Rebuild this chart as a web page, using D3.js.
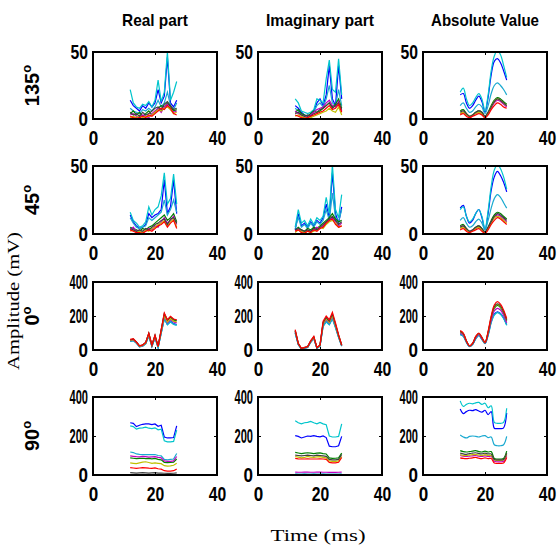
<!DOCTYPE html>
<html>
<head>
<meta charset="utf-8">
<script src="https://d3js.org/d3.v7.min.js"></script>
<style>
    body, html { margin: 0; padding: 0; background: #fff; }
    .tick text {
        font-family: "Liberation Sans", Arial, sans-serif;
        font-weight: bold;
        font-size: 21px;
        fill: #000;
    }
    .col-title {
        font-family: "Liberation Sans", Arial, sans-serif;
        font-weight: bold;
        font-size: 17px;
    }
    .row-label {
        font-family: "Liberation Sans", Arial, sans-serif;
        font-weight: bold;
        font-size: 20px;
    }
    .axis-title {
        font-family: "Liberation Serif", "Times New Roman", serif;
        font-size: 17px;
    }
</style>
</head>
<body>
<script>
// time axis (ms), shared by every trace
const timeMs = [12, 13, 14, 15, 16, 17, 18, 19, 20, 21, 22, 23, 24, 25, 26, 27];
const xTicks = [0, 20, 40];
const yTicksSmall = [0, 50];
const yTicksLarge = [0, 200, 400];
const columnTitles = ["Real part", "Imaginary part", "Absolute Value"];

// each panel: traces in order blue, cyan, light blue, green, magenta, olive, grey, red
const real135 = [
    [14, 10, 8, 6, 10, 8, 12, 9, 12, 22, 12, 17, 46, 12, 9, 14],
    [22, 12, 9, 8, 11, 10, 13, 9, 14, 29, 13, 20, 50, 14, 20, 28],
    [8, 6, 5, 4, 7, 6, 8, 6, 9, 14, 9, 12, 20, 10, 7, 12],
    [4, 6, 3, 5, 2, 4, 6, 3, 5, 8, 10, 9, 12, 9, 6, 7],
    [3, 4, 2, 1, 3, 2, 1, 4, 6, 8, 5, 9, 11, 7, 5, 6],
    [1, 2, 1, 3, 1, 2, 2, 3, 5, 7, 6, 8, 9, 7, 4, 5],
    [5, 3, 4, 2, 5, 3, 4, 6, 8, 9, 7, 11, 13, 10, 7, 8],
    [2, 1, 0.5, 1, 2, 1, 3, 2, 4, 6, 8, 7, 10, 8, 4, 3]
];
const imag135 = [
    [10, 8, 5, 3, 2, 4, 6, 12, 15, 10, 18, 40, 15, 10, 40, 15],
    [15, 12, 6, 5, 4, 5, 7, 15, 14, 12, 30, 44, 22, 20, 45, 18],
    [8, 6, 4, 3, 2, 3, 5, 10, 12, 9, 15, 25, 12, 10, 22, 10],
    [5, 7, 4, 3, 2, 4, 6, 5, 6, 8, 10, 12, 9, 11, 15, 8],
    [6, 4, 3, 2, 1, 3, 5, 7, 8, 9, 12, 14, 10, 9, 13, 6],
    [2, 3, 2, 1, 0.5, 1, 2, 3, 4, 5, 6, 8, 6, 5, 9, 3],
    [4, 5, 3, 2, 3, 2, 4, 5, 7, 8, 10, 12, 8, 10, 12, 7],
    [3, 2, 1, 0.5, 1, 2, 3, 4, 5, 6, 8, 10, 7, 8, 11, 5]
];
const abs135 = [
    [18, 19, 12, 8, 10, 14, 17, 13, 5, 16, 33, 43, 45, 42, 36, 29],
    [20, 23, 15, 10, 12, 16, 19, 15, 6, 18, 36, 47, 51, 48, 40, 31],
    [10, 12, 8, 5, 6, 9, 11, 9, 4, 10, 19, 25, 27, 25, 22, 18],
    [6, 7, 4, 2, 3, 5, 6, 5, 2, 5, 10, 14, 16, 15, 13, 11],
    [4, 5, 3, 1.5, 2.5, 4, 5, 4, 1.5, 4, 8, 12, 14, 13, 11, 9],
    [4, 5, 3, 2, 3, 4, 5, 4, 1.5, 4, 9, 13, 15, 14, 12, 10],
    [5, 6, 4, 2, 3, 5, 6, 5, 2, 5, 9, 13, 15, 14, 12, 10],
    [3, 4, 2, 1, 2, 3, 4, 3, 1, 3, 7, 10, 12, 11, 9, 8]
];
const real45 = [
    [14, 9, 6, 4, 5, 7, 15, 12, 14, 15, 18, 40, 15, 20, 40, 15],
    [16, 10, 8, 5, 6, 9, 20, 14, 18, 20, 28, 45, 22, 26, 44, 22],
    [12, 8, 5, 4, 5, 6, 12, 10, 12, 14, 16, 25, 14, 18, 25, 16],
    [5, 4, 3, 2, 4, 3, 5, 6, 8, 10, 12, 14, 10, 12, 15, 9],
    [3, 5, 2, 3, 1, 2, 4, 3, 6, 5, 9, 12, 8, 10, 13, 7],
    [2, 3, 1, 2, 1, 3, 2, 4, 5, 7, 8, 10, 6, 9, 11, 5],
    [4, 3, 2, 3, 2, 4, 3, 5, 7, 8, 10, 11, 7, 11, 12, 8],
    [3, 2, 1, 1, 0.5, 2, 3, 2, 4, 6, 7, 9, 5, 8, 10, 4]
];
const imag45 = [
    [3, 15, 6, 8, 5, 9, 6, 10, 8, 12, 22, 12, 45, 15, 8, 20],
    [5, 18, 8, 10, 6, 11, 7, 12, 10, 13, 27, 15, 51, 18, 12, 29],
    [4, 12, 5, 7, 4, 8, 5, 9, 7, 10, 18, 10, 30, 12, 9, 18],
    [3, 5, 3, 2, 4, 3, 5, 4, 6, 8, 10, 12, 15, 11, 9, 10],
    [2, 4, 2, 1, 3, 2, 3, 5, 4, 6, 8, 10, 12, 9, 6, 8],
    [1, 3, 2, 1, 2, 1, 2, 3, 5, 4, 7, 9, 10, 8, 5, 6],
    [3, 4, 3, 2, 3, 2, 4, 3, 5, 7, 9, 11, 13, 10, 7, 9],
    [2, 3, 1, 0.5, 2, 1, 3, 2, 4, 5, 8, 10, 11, 7, 5, 6]
];
const abs45 = [
    [19, 21, 13, 8, 10, 15, 18, 12, 3, 15, 32, 42, 46, 43, 38, 31],
    [18, 20, 13, 9, 11, 15, 18, 13, 4, 17, 35, 47, 51, 48, 42, 33],
    [10, 12, 8, 5, 6, 9, 11, 8, 3, 10, 19, 26, 29, 27, 23, 19],
    [6, 7, 4, 2, 3, 5, 6, 4, 1.5, 5, 10, 14, 16, 15, 13, 11],
    [5, 6, 3, 2, 3, 4, 5, 3, 1, 4, 9, 12, 14, 13, 11, 9],
    [4, 5, 3, 1.5, 2.5, 4, 5, 3, 1, 4, 8, 12, 13, 12, 10, 8],
    [5, 6, 4, 2, 3, 5, 6, 4, 1.5, 5, 9, 13, 15, 14, 12, 10],
    [3, 4, 2, 1, 2, 3, 4, 2, 0.5, 3, 7, 10, 12, 11, 9, 7]
];
const real0 = [
    [52, 57, 42, 20, 24, 38, 86, 22, 74, 16, 102, 188, 152, 170, 155, 150],
    [50, 55, 40, 18, 22, 36, 82, 20, 70, 14, 98, 182, 148, 165, 150, 145],
    [51, 56, 41, 19, 23, 37, 84, 21, 72, 15, 100, 185, 150, 168, 152, 148],
    [58, 63, 46, 23, 28, 43, 96, 27, 84, 20, 115, 210, 172, 192, 176, 172],
    [55, 60, 44, 22, 26, 40, 90, 24, 78, 18, 108, 198, 160, 180, 165, 160],
    [56, 61, 45, 22, 27, 41, 92, 25, 80, 19, 110, 202, 165, 185, 170, 165],
    [59, 64, 47, 24, 29, 44, 98, 28, 86, 21, 118, 214, 176, 195, 180, 176],
    [62, 66, 48, 25, 30, 45, 100, 30, 88, 22, 120, 218, 178, 198, 182, 178]
];
const imag0 = [
    [102, 33, 7, 12, 16, 47, 69, 11, 24, 145, 172, 152, 190, 136, 77, 25],
    [98, 31, 5, 10, 15, 45, 67, 9, 22, 138, 165, 148, 182, 130, 73, 22],
    [100, 32, 6, 11, 15, 46, 68, 10, 23, 142, 168, 150, 186, 133, 75, 24],
    [113, 37, 9, 14, 18, 51, 75, 13, 27, 158, 188, 166, 207, 148, 84, 28],
    [108, 35, 8, 13, 17, 49, 72, 12, 26, 152, 180, 160, 198, 142, 80, 26],
    [110, 36, 8, 13, 18, 50, 73, 13, 26, 155, 183, 162, 202, 145, 82, 27],
    [116, 38, 9, 14, 19, 53, 77, 14, 28, 162, 192, 170, 212, 152, 86, 28],
    [120, 40, 10, 15, 20, 55, 80, 15, 30, 170, 200, 178, 222, 160, 90, 30]
];
const abs0 = [
    [95, 84, 47, 21, 34, 68, 88, 65, 40, 90, 168, 212, 225, 215, 190, 150],
    [90, 80, 45, 20, 32, 65, 85, 62, 38, 85, 160, 205, 220, 210, 185, 145],
    [92, 82, 46, 21, 33, 66, 86, 63, 39, 88, 164, 208, 222, 212, 187, 148],
    [105, 92, 51, 23, 37, 74, 94, 70, 42, 100, 185, 245, 262, 250, 215, 170],
    [100, 88, 49, 22, 35, 70, 90, 67, 41, 95, 175, 230, 245, 235, 205, 160],
    [108, 94, 52, 24, 38, 76, 96, 72, 43, 103, 190, 250, 268, 255, 222, 175],
    [110, 96, 53, 24, 38, 77, 97, 73, 44, 105, 192, 255, 272, 260, 225, 178],
    [115, 100, 55, 25, 40, 80, 100, 75, 45, 110, 200, 265, 285, 270, 235, 185]
];
const real90 = [
    [268, 265, 248, 255, 260, 262, 262, 258, 262, 250, 255, 195, 190, 190, 192, 252],
    [252, 248, 235, 240, 242, 245, 240, 238, 242, 232, 235, 175, 170, 170, 172, 230],
    [118, 115, 108, 106, 105, 105, 105, 104, 105, 100, 98, 80, 78, 80, 82, 110],
    [88, 86, 84, 85, 86, 84, 85, 83, 85, 80, 78, 65, 63, 64, 66, 82],
    [98, 96, 94, 93, 95, 94, 92, 93, 94, 90, 88, 72, 70, 70, 72, 95],
    [62, 60, 58, 62, 66, 68, 64, 60, 62, 60, 58, 48, 46, 47, 50, 60],
    [12, 11, 10, 11, 12, 11, 10, 11, 12, 10, 10, 9, 8, 8, 9, 11],
    [38, 36, 34, 36, 38, 37, 35, 34, 36, 32, 30, 22, 20, 20, 22, 30]
];
const imag90 = [
    [202, 198, 190, 195, 200, 198, 202, 198, 196, 200, 192, 148, 145, 145, 150, 198],
    [278, 268, 262, 268, 270, 275, 268, 262, 270, 262, 258, 200, 195, 195, 198, 262],
    [6, 5, 5, 6, 5, 5, 6, 5, 5, 6, 5, 4, 4, 4, 5, 6],
    [116, 113, 110, 112, 114, 112, 110, 112, 113, 110, 108, 88, 85, 86, 88, 112],
    [15, 14, 14, 15, 15, 14, 14, 15, 15, 14, 14, 13, 13, 13, 14, 15],
    [95, 92, 88, 90, 95, 92, 90, 93, 94, 90, 88, 72, 70, 70, 72, 95],
    [102, 100, 98, 100, 102, 100, 98, 102, 100, 98, 96, 80, 78, 78, 80, 105],
    [85, 83, 82, 82, 83, 82, 82, 82, 83, 82, 80, 65, 62, 62, 65, 90]
];
const abs90 = [
    [338, 315, 325, 332, 330, 335, 328, 322, 332, 310, 325, 240, 238, 238, 242, 318],
    [380, 352, 362, 368, 365, 370, 372, 362, 368, 345, 355, 270, 265, 265, 270, 342],
    [205, 195, 190, 198, 200, 198, 195, 200, 202, 192, 195, 155, 150, 150, 155, 198],
    [125, 120, 118, 120, 122, 125, 120, 118, 122, 118, 120, 85, 82, 82, 85, 122],
    [100, 96, 95, 97, 98, 100, 96, 95, 98, 95, 96, 70, 68, 68, 70, 100],
    [105, 100, 100, 102, 104, 106, 102, 100, 104, 100, 100, 78, 75, 75, 78, 108],
    [112, 108, 106, 110, 112, 114, 110, 108, 112, 108, 108, 80, 78, 78, 80, 112],
    [88, 85, 84, 86, 88, 90, 86, 84, 88, 84, 85, 62, 60, 60, 62, 90]
];

const rows = [
    {angle: "135", yMax: 50, yTicks: yTicksSmall, panels: [real135, imag135, abs135]},
    {angle: "45", yMax: 50, yTicks: yTicksSmall, panels: [real45, imag45, abs45]},
    {angle: "0", yMax: 400, yTicks: yTicksLarge, panels: [real0, imag0, abs0]},
    {angle: "90", yMax: 400, yTicks: yTicksLarge, panels: [real90, imag90, abs90]}
];

const colors = ["#0000ff", "#00c5cc", "#1aa9d0", "#008000", "#c000c0", "#c0c000", "#404040", "#ff0000"];

const width = 558, height = 545;
const colLeft = [93, 258, 423];
const colWidth = 124;
const rowBox = [[52, 119], [166, 234], [282, 350], [397, 475]]; // top, bottom

const svg = d3.select("body").append("svg")
    .attr("width", width)
    .attr("height", height);

// squeeze digits like the original export
function fitLabels(sel) {
    sel.selectAll(".tick text")
        .attr("lengthAdjust", "spacingAndGlyphs")
        .attr("textLength", d => {
            const n = String(d).length;
            return n === 1 ? 9.5 : (n === 2 ? 17.5 : 18.5);
        });
}

rows.forEach((row, r) => {
    const [top, bottom] = rowBox[r];
    row.panels.forEach((traces, c) => {
        const left = colLeft[c], right = colLeft[c] + colWidth;
        const x = d3.scaleLinear().domain([0, 40]).range([left, right]);
        const y = d3.scaleLinear().domain([0, row.yMax]).range([bottom, top]);

        const clipId = "clip-" + r + "-" + c;
        svg.append("clipPath").attr("id", clipId)
            .append("rect")
            .attr("x", left).attr("y", top)
            .attr("width", right - left).attr("height", bottom - top);

        const line = d3.line()
            .x((d, i) => x(timeMs[i]))
            .y(d => y(d))
            .curve(c === 2 ? d3.curveCatmullRom : d3.curveLinear);

        svg.append("g")
            .attr("clip-path", "url(#" + clipId + ")")
            .selectAll("path")
            .data(traces)
            .join("path")
            .attr("d", line)
            .attr("fill", "none")
            .attr("stroke", (d, i) => colors[i])
            .attr("stroke-width", 1.2);

        // axes: ticks point inward, MATLAB style
        const gx = svg.append("g")
            .attr("transform", "translate(0," + bottom + ")")
            .call(d3.axisBottom(x).tickValues(xTicks).tickSize(-3).tickSizeOuter(0).tickPadding(11));
        gx.select(".domain").remove();
        fitLabels(gx);

        const gy = svg.append("g")
            .attr("transform", "translate(" + left + ",0)")
            .call(d3.axisLeft(y).tickValues(row.yTicks).tickSize(-3).tickSizeOuter(0).tickPadding(5));
        gy.select(".domain").remove();
        fitLabels(gy);

        svg.append("g")
            .attr("transform", "translate(0," + top + ")")
            .call(d3.axisTop(x).tickValues(xTicks).tickSize(-3).tickSizeOuter(0).tickFormat(""))
            .select(".domain").remove();
        svg.append("g")
            .attr("transform", "translate(" + right + ",0)")
            .call(d3.axisRight(y).tickValues(row.yTicks).tickSize(-3).tickSizeOuter(0).tickFormat(""))
            .select(".domain").remove();

        svg.append("rect")
            .attr("x", left).attr("y", top)
            .attr("width", right - left).attr("height", bottom - top)
            .attr("fill", "none")
            .attr("stroke", "#000")
            .attr("stroke-width", 2);
    });

    // angle label on the left of each row
    const lab = svg.append("text")
        .attr("class", "row-label")
        .attr("transform", "translate(39," + ((top + bottom) / 2) + ") rotate(-90)")
        .attr("text-anchor", "middle");
    lab.append("tspan").text(row.angle);
    lab.append("tspan").attr("dy", -8).attr("font-size", 13).text("o");
});

columnTitles.forEach((t, c) => {
    svg.append("text")
        .attr("class", "col-title")
        .attr("x", colLeft[c] + colWidth / 2)
        .attr("y", 26)
        .attr("text-anchor", "middle")
        .attr("lengthAdjust", "spacingAndGlyphs")
        .attr("textLength", c === 0 ? 66 : 108)
        .text(t);
});

svg.append("text")
    .attr("class", "axis-title")
    .attr("transform", "translate(19,301) rotate(-90)")
    .attr("text-anchor", "middle")
    .attr("lengthAdjust", "spacingAndGlyphs")
    .attr("textLength", 138)
    .text("Amplitude (mV)");

svg.append("text")
    .attr("class", "axis-title")
    .attr("x", 318)
    .attr("y", 541)
    .attr("text-anchor", "middle")
    .attr("lengthAdjust", "spacingAndGlyphs")
    .attr("textLength", 95)
    .text("Time (ms)");
</script>
</body>
</html>
